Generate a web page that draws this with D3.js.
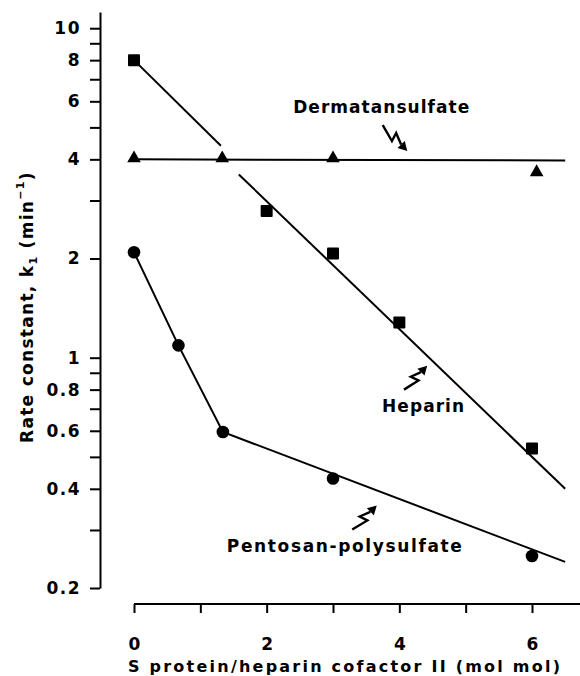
<!DOCTYPE html>
<html>
<head>
<meta charset="utf-8">
<script src="https://cdn.jsdelivr.net/npm/d3@7"></script>
<style>
  html, body { margin: 0; padding: 0; background: #fff; }
  svg { display: block; }
  text, tspan { font-family: "DejaVu Sans", "Liberation Sans", Arial, sans-serif; font-weight: bold; fill: #000; }
</style>
</head>
<body>
<svg id="chart" width="580" height="676"></svg>
<script>
// ---------------- data ----------------
const heparinX = [0, 2, 3, 4, 6];
const heparinY = [8.0, 2.79, 2.07, 1.28, 0.53];
const dermatanX = [0, 1.33, 3, 6.07];
const dermatanY = [4.0, 4.0, 4.0, 3.63];
const pentosanX = [0, 0.67, 1.34, 3, 6];
const pentosanY = [2.09, 1.09, 0.595, 0.43, 0.25];

// fitted lines (data units)
const heparinFitA = [[0, 8.0], [1.31, 4.4]];
const heparinFitB = [[1.58, 3.6], [6.5, 0.4]];
const dermatanFit = [[0, 4.0], [6.5, 3.97]];
const pentosanFit = [[0, 2.09], [0.67, 1.09], [1.34, 0.595], [6.5, 0.24]];

const xTicks = [0, 1, 2, 3, 4, 5, 6];
const xTickLabels = ["0", "", "2", "", "4", "", "6"];
const yMajorTicks = [0.2, 0.4, 0.6, 0.8, 1, 2, 4, 6, 8, 10];
const yMajorLabels = ["0.2", "0.4", "0.6", "0.8", "1", "2", "4", "6", "8", "10"];
const yMinorTicks = [0.3, 0.5, 0.7, 0.9, 3, 5, 7, 9];

// ---------------- layout ----------------
const FONT = '"DejaVu Sans", "Liberation Sans", Arial, sans-serif';
const svg = d3.select("#chart");
const x = d3.scaleLinear().domain([0, 6]).range([134, 532]);
const y = d3.scaleLog().domain([0.2, 11.2]).range([588, 12]);
const xAxisY = 604;
const yAxisX = 100;

// y axis
const yAxis = d3.axisLeft(y)
  .tickValues(yMajorTicks.concat(yMinorTicks))
  .tickSize(10)
  .tickSizeOuter(0)
  .tickPadding(9)
  .tickFormat(d => {
    const i = yMajorTicks.indexOf(d);
    return i >= 0 ? yMajorLabels[i] : "";
  });
const gy = svg.append("g").attr("transform", `translate(${yAxisX},0)`).call(yAxis);
gy.select(".domain").attr("stroke", "#000").attr("stroke-width", 2);
gy.selectAll(".tick line").attr("stroke", "#000").attr("stroke-width", 2);
gy.selectAll(".tick text").style("font-size", "17px").style("font-weight", "bold")
  .style("font-family", FONT).style("letter-spacing", "1.5px").attr("fill", "#000");

// x axis
const xAxis = d3.axisBottom(x)
  .tickValues(xTicks)
  .tickSize(9)
  .tickSizeOuter(0)
  .tickPadding(25)
  .tickFormat((d, i) => xTickLabels[i]);
const gx = svg.append("g").attr("transform", `translate(0,${xAxisY})`).call(xAxis);
gx.select(".domain").remove();
gx.append("line").attr("x1", x(0)).attr("x2", 580).attr("y1", 0).attr("y2", 0)
  .attr("stroke", "#000").attr("stroke-width", 2);
gx.selectAll(".tick line").attr("stroke", "#000").attr("stroke-width", 2);
gx.selectAll(".tick text").style("font-size", "17px").style("font-weight", "bold")
  .style("font-family", FONT).attr("fill", "#000");

// axis titles
svg.append("text")
  .attr("x", 128).attr("y", 672)
  .attr("textLength", 432).attr("lengthAdjust", "spacing")
  .style("font-size", "16px").style("font-weight", "bold")
  .text("S protein/heparin cofactor II (mol mol)");

const yt = svg.append("text")
  .attr("transform", "translate(33,443) rotate(-90)")
  .attr("x", 0).attr("y", 0)
  .style("font-size", "17px").style("font-weight", "bold").style("letter-spacing", "1.3px");
yt.append("tspan").text("Rate constant, k");
yt.append("tspan").attr("dy", 4).style("font-size", "11px").text("1");
yt.append("tspan").attr("dy", -4).text(" (min");
yt.append("tspan").attr("dy", -9).style("font-size", "11px").text("\u22121");
yt.append("tspan").attr("dy", 9).text(")");

// ---------------- lines ----------------
const line = d3.line().x(d => x(d[0])).y(d => y(d[1]));
[heparinFitA, heparinFitB, dermatanFit, pentosanFit].forEach(seg => {
  svg.append("path").attr("d", line(seg))
    .attr("fill", "none").attr("stroke", "#000").attr("stroke-width", 2);
});

// ---------------- markers ----------------
const zip = (xs, ys) => xs.map((v, i) => [v, ys[i]]);
svg.selectAll(".sq").data(zip(heparinX, heparinY)).enter().append("rect")
  .attr("x", d => x(d[0]) - 6).attr("y", d => y(d[1]) - 6)
  .attr("width", 12).attr("height", 12).attr("rx", 1).attr("fill", "#000");
const tri = d3.symbol().type(d3.symbolTriangle).size(80);
svg.selectAll(".tri").data(zip(dermatanX, dermatanY)).enter().append("path")
  .attr("d", tri)
  .attr("transform", d => `translate(${x(d[0])},${y(d[1]) - 1})`).attr("fill", "#000");
svg.selectAll(".ci").data(zip(pentosanX, pentosanY)).enter().append("circle")
  .attr("cx", d => x(d[0])).attr("cy", d => y(d[1])).attr("r", 6.3).attr("fill", "#000");

// ---------------- annotations ----------------
function zigArrow(x0, y0, x1, y1) {
  const dx = x1 - x0, dy = y1 - y0, L = Math.hypot(dx, dy);
  const ux = dx / L, uy = dy / L, nx = -uy, ny = ux;
  const p = (a, b) => [x0 + ux * a * L + nx * b * L, y0 + uy * a * L + ny * b * L];
  const head = 9;
  const pts = [p(0, 0), p(0.5, 0.12), p(0.42, -0.12), [x1 - ux * head, y1 - uy * head]];
  svg.append("path").attr("d", d3.line()(pts))
    .attr("fill", "none").attr("stroke", "#000").attr("stroke-width", 2.4)
    .attr("stroke-linejoin", "miter");
  const bx = x1 - ux * head, by = y1 - uy * head;
  svg.append("path")
    .attr("d", `M${x1},${y1}L${bx + nx * 5},${by + ny * 5}L${bx - nx * 5},${by - ny * 5}Z`)
    .attr("fill", "#000");
}

const labels = [
  { text: "Dermatansulfate", tx: 2.40, ty: 5.52, len: 176, ax0: 3.75, ay0: 5.08, ax1: 4.12, ay1: 4.24 },
  { text: "Heparin", tx: 3.74, ty: 0.686, len: 82, ax0: 4.07, ay0: 0.80, ax1: 4.42, ay1: 0.946 },
  { text: "Pentosan-polysulfate", tx: 1.40, ty: 0.257, len: 235, ax0: 3.29, ay0: 0.301, ax1: 3.66, ay1: 0.356 }
];
labels.forEach(l => {
  svg.append("text").attr("x", x(l.tx)).attr("y", y(l.ty))
    .attr("textLength", l.len).attr("lengthAdjust", "spacing")
    .style("font-size", "17px").style("font-weight", "bold").text(l.text);
  zigArrow(x(l.ax0), y(l.ay0), x(l.ax1), y(l.ay1));
});
</script>
</body>
</html>
